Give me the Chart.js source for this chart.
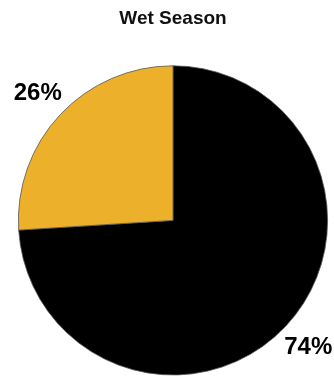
<!DOCTYPE html>
<html>
<head>
<meta charset="utf-8">
<script src="https://cdn.jsdelivr.net/npm/chart.js@4"></script>
<style>
  html, body { margin: 0; padding: 0; background: #fff; }
  #wrap { width: 334px; height: 376px; }
</style>
</head>
<body>
<div id="wrap"><canvas id="chartWet"></canvas></div>
<script>
// Datos de la estación húmeda
const categorias = ['Otros', 'Seleccionados'];
const valores = [74, 26];
const etiquetas = ['74%', '26%'];
const colores = ['#000000', '#ECB02A'];

// Etiquetas de porcentaje fuera de cada porción
const etiquetasExternas = {
    id: 'etiquetasExternas',
    afterDatasetsDraw(chart) {
        const ctx = chart.ctx;
        const meta = chart.getDatasetMeta(0);
        ctx.save();
        ctx.font = 'bold 24px "Liberation Sans", Arial, sans-serif';
        ctx.fillStyle = '#000';
        ctx.textAlign = 'center';
        ctx.textBaseline = 'middle';
        meta.data.forEach((arc, i) => {
            const mid = (arc.startAngle + arc.endAngle) / 2;
            const r = arc.outerRadius * 1.2;
            ctx.fillText(etiquetas[i], arc.x + Math.cos(mid) * r, arc.y + Math.sin(mid) * r);
        });
        ctx.restore();
    }
};

const ctx = document.getElementById('chartWet').getContext('2d');
new Chart(ctx, {
    type: 'pie',
    data: {
        labels: categorias,
        datasets: [{
            data: valores,
            backgroundColor: colores,
            borderColor: '#555',
            borderWidth: 0.8
        }]
    },
    options: {
        responsive: true,
        maintainAspectRatio: false,
        animation: false,
        layout: { padding: { left: 18, right: 6, top: 0, bottom: 0 } },
        plugins: {
            legend: { display: false },
            tooltip: { enabled: false },
            title: {
                display: true,
                text: 'Wet Season',
                color: '#111',
                font: { family: '"Liberation Sans", Arial, sans-serif', size: 19, weight: 'bold' },
                padding: { top: 7, bottom: 35 }
            }
        }
    },
    plugins: [etiquetasExternas]
});
</script>
</body>
</html>
